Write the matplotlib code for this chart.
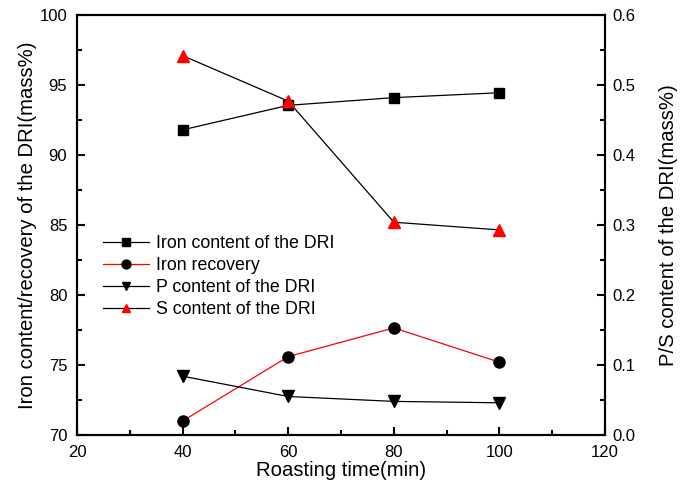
import matplotlib.pyplot as plt
from matplotlib.ticker import MultipleLocator

plt.rcParams['font.family'] = ['Liberation Sans', 'DejaVu Sans']

time = [40, 60, 80, 100]
iron_content = [91.8, 93.55, 94.1, 94.45]
iron_recovery = [71.0, 75.6, 77.65, 75.2]
p_content = [0.084, 0.055, 0.048, 0.046]
s_content = [0.542, 0.477, 0.304, 0.293]

fig = plt.figure(figsize=(6.84, 4.87), dpi=100)
ax = fig.add_axes([0.1126, 0.1068, 0.772, 0.8623])
ax2 = ax.twinx()

l1, = ax.plot(time, iron_content, 'k-', marker='s', ms=7, lw=0.9, mfc='black', mec='black')
l2, = ax.plot(time, iron_recovery, '-', color='red', marker='o', ms=8, lw=0.9, mfc='black', mec='black')
l3, = ax2.plot(time, p_content, 'k-', marker='v', ms=8, lw=0.9, mfc='black', mec='black')
l4, = ax2.plot(time, s_content, 'k-', marker='^', ms=8, lw=0.9, mfc='red', mec='red')

ax.set_xlim(20, 120)
ax.set_ylim(70, 100)
ax2.set_ylim(0, 0.6)
ax.xaxis.set_major_locator(MultipleLocator(20))
ax.xaxis.set_minor_locator(MultipleLocator(10))
ax.yaxis.set_major_locator(MultipleLocator(5))
ax.yaxis.set_minor_locator(MultipleLocator(2.5))
ax2.yaxis.set_major_locator(MultipleLocator(0.1))
ax2.yaxis.set_minor_locator(MultipleLocator(0.05))
ax2.yaxis.set_major_formatter(plt.FormatStrFormatter('%.1f'))

for a in (ax, ax2):
    for s in a.spines.values():
        s.set_linewidth(1.5)
    a.tick_params(which='major', direction='in', length=6, width=1.5, labelsize=12)
    a.tick_params(which='minor', direction='in', length=3.5, width=1.5)
ax.tick_params(axis='x', which='both', top=False, pad=7)
ax.tick_params(axis='y', which='both', right=False, pad=7)
ax2.tick_params(axis='y', pad=5)

ax.set_xlabel('Roasting time(min)', fontsize=14.6, labelpad=1)
ax.set_ylabel('Iron content/recovery of the DRI(mass%)', fontsize=14.6, labelpad=2)
ax2.set_ylabel('P/S content of the DRI(mass%)', fontsize=14.6, labelpad=17)

ax2.legend([l1, l2, l3, l4],
           ['Iron content of the DRI', 'Iron recovery', 'P content of the DRI', 'S content of the DRI'],
           loc='upper left', bbox_to_anchor=(0.035, 0.492), frameon=False, fontsize=12.8,
           handlelength=2.6, handletextpad=0.4, labelspacing=0.28, borderaxespad=0,
           markerscale=0.8)

fig.savefig('out.png', dpi=100)
